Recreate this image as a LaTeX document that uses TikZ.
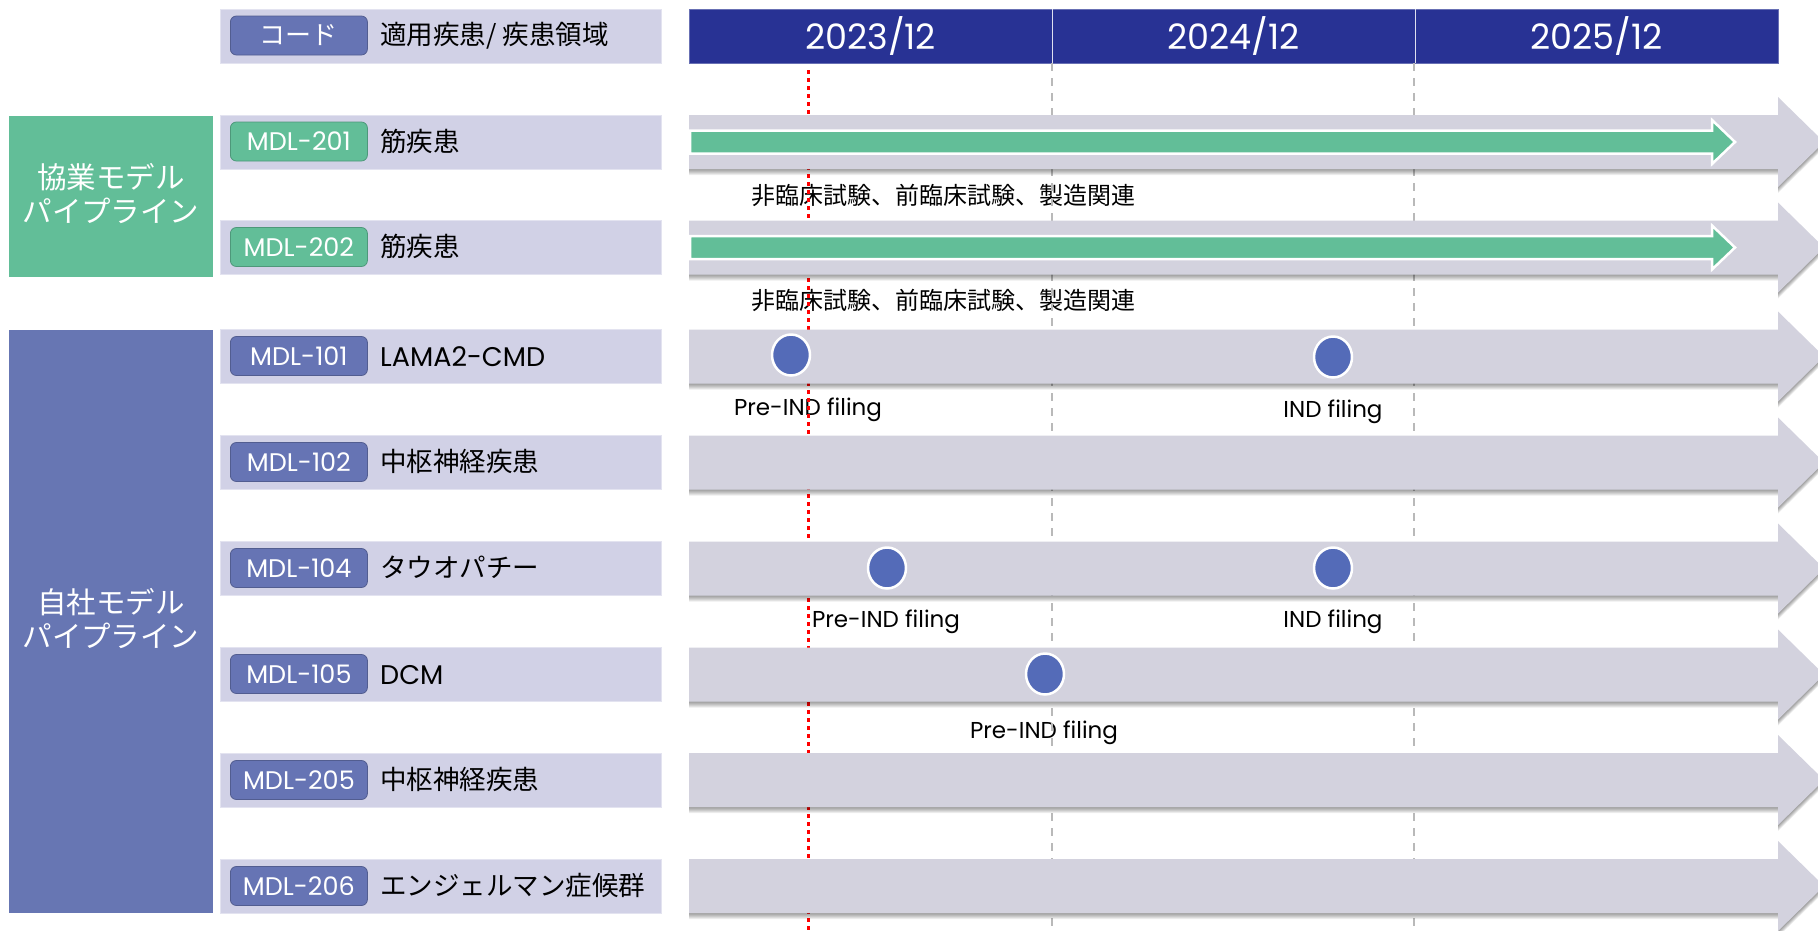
\documentclass[tikz,border=0pt]{standalone}
\usepackage{fontspec}
\setmainfont{Poppins}
\newfontfamily\jp{Noto Sans CJK JP}
\usetikzlibrary{shapes.geometric}
\definecolor{rowbg}{RGB}{209,209,230}
\definecolor{pillblue}{RGB}{102,116,180}
\definecolor{mgreen}{RGB}{98,190,152}
\definecolor{gblue}{RGB}{103,118,179}
\definecolor{navy}{RGB}{40,50,148}
\definecolor{arrowgray}{RGB}{211,210,222}
\definecolor{dotblue}{RGB}{84,107,184}
\begin{document}
\begin{tikzpicture}[x=1pt,y=-1pt,
  rowbox/.style={fill=rowbg, draw=rowbg!60!white, line width=0.8pt, minimum width=441pt, minimum height=54pt, inner sep=0pt, anchor=west},
  pill/.style={rounded corners=6pt, minimum width=137pt, minimum height=39pt, inner sep=0pt, text=white, line width=0.8pt, anchor=west, font=\fontsize{25.5}{25.5}\selectfont},
  bluepill/.style={pill, fill=pillblue, draw=pillblue!80!black},
  greenpill/.style={pill, fill=mgreen, draw=mgreen!80!black},
  distext/.style={anchor=west, inner sep=0pt, font=\jp\fontsize{26.5}{26.5}\selectfont},
  latintext/.style={anchor=west, inner sep=0pt, font=\fontsize{27}{27}\selectfont},
  grp/.style={text=white, align=center, inner sep=0pt, font=\jp\fontsize{29.5}{34}\selectfont},
  yearcell/.style={fill=navy, draw=navy!70!white, minimum width=363pt, minimum height=54pt, inner sep=0pt, anchor=west, text=white, font=\fontsize{35}{35}\selectfont},
  note/.style={inner sep=0pt, font=\jp\fontsize{24}{24}\selectfont},
  lbl/.style={inner sep=0pt, font=\fontsize{23}{23}\selectfont},
  milestone/.style={ellipse, minimum width=38pt, minimum height=41pt, inner sep=0pt, fill=dotblue, draw=white, line width=2.5pt},
  grid/.style={draw=gray!55, line width=1.4pt, dash pattern=on 8pt off 7pt},
  today/.style={draw=red, line width=3pt, dash pattern=on 4pt off 4pt}
]
\useasboundingbox (0,0) rectangle (1818,930);
\fill[white] (0,0) rectangle (1818,930);

% header row
\node[rowbox] (hdr) at (220,36) {};
\node[bluepill, font=\jp\fontsize{26}{26}\selectfont] (hcode) at (230,35.5) {コード};
\node[distext] (htext) at (380,36) {適用疾患/ 疾患領域};

% timeline header
\node[yearcell] (y1) at (689,36) {2023/12};
\node[yearcell] (y2) at (1052,36) {2024/12};
\node[yearcell] (y3) at (1415,36) {2025/12};
\draw[white!85!navy, line width=1.5pt] (y1.north east) -- (y1.south east);
\draw[white!85!navy, line width=1.5pt] (y2.north east) -- (y2.south east);

% milestone labels
\node[note, anchor=west] (n1) at (751,195) {非臨床試験、前臨床試験、製造関連};
\node[note, anchor=west] (n2) at (751,300) {非臨床試験、前臨床試験、製造関連};
\node[lbl] (l1) at (808,410) {Pre-IND filing};
\node[lbl] (l2) at (1333,412) {IND filing};
\node[lbl] (l3) at (886,622) {Pre-IND filing};
\node[lbl] (l4) at (1333,622) {IND filing};
\node[lbl] (l5) at (1044,733) {Pre-IND filing};

% grid lines
\coordinate (g1t) at (1052,63); \coordinate (g1b) at (1052,930);
\coordinate (g2t) at (1414,63); \coordinate (g2b) at (1414,930);
\coordinate (rt) at (808,70); \coordinate (rb) at (808,930);
\draw[grid] (g1t) -- (g1b);
\draw[grid] (g2t) -- (g2b);
\draw[today] (rt) -- (rb);

% gray timeline arrows with soft shadow
\foreach \c in {142,247.5,356.5,462.5,568.5,674.5,780,886}{
  \foreach \s in {1,2,3,4,5,6}{
    \fill[black, opacity=0.07] (689,\c-27+\s) -- (1778,\c-27+\s) -- (1778,\c-45+\s) -- (1824,\c+\s) -- (1778,\c+45+\s) -- (1778,\c+27+\s) -- (689,\c+27+\s) -- cycle;
  }
  \fill[arrowgray] (689,\c-27) -- (1778,\c-27) -- (1778,\c-45) -- (1824,\c) -- (1778,\c+45) -- (1778,\c+27) -- (689,\c+27) -- cycle;
}
% green progress arrows
\foreach \c in {142,247.5}{
  \filldraw[fill=mgreen, draw=white, line width=2.5pt] (690,\c-11.5) -- (1712,\c-11.5) -- (1712,\c-22) -- (1735,\c) -- (1712,\c+22) -- (1712,\c+11.5) -- (690,\c+11.5) -- cycle;
}

% milestones
\node[milestone] (m1) at (791,355) {};
\node[milestone] (m2) at (1333,357) {};
\node[milestone] (m3) at (887,568) {};
\node[milestone] (m4) at (1333,568) {};
\node[milestone] (m5) at (1045,674) {};

% group boxes
\fill[mgreen] (9,116) rectangle (213,277);
\node[grp] (gcollab) at (111,194) {協業モデル\\パイプライン};
\fill[gblue] (9,330) rectangle (213,913);
\node[grp] (gown) at (111,619) {自社モデル\\パイプライン};

% rows
\node[rowbox] (r201) at (220,142) {};
\node[greenpill] (p201) at (230,141.5) {MDL-201};
\node[distext] (d201) at (380,141) {筋疾患};

\node[rowbox] (r202) at (220,247.5) {};
\node[greenpill] (p202) at (230,247) {MDL-202};
\node[distext] (d202) at (380,246.5) {筋疾患};

\node[rowbox] (r101) at (220,356.5) {};
\node[bluepill] (p101) at (230,356) {MDL-101};
\node[latintext] (d101) at (380,357) {LAMA2-CMD};

\node[rowbox] (r102) at (220,462.5) {};
\node[bluepill] (p102) at (230,462) {MDL-102};
\node[distext] (d102) at (380,461.5) {中枢神経疾患};

\node[rowbox] (r104) at (220,568.5) {};
\node[bluepill] (p104) at (230,568) {MDL-104};
\node[distext] (d104) at (380,567.5) {タウオパチー};

\node[rowbox] (r105) at (220,674.5) {};
\node[bluepill] (p105) at (230,674) {MDL-105};
\node[latintext] (d105) at (380,675) {DCM};

\node[rowbox] (r205) at (220,780) {};
\node[bluepill] (p205) at (230,780) {MDL-205};
\node[distext] (d205) at (380,779.5) {中枢神経疾患};

\node[rowbox] (r206) at (220,886) {};
\node[bluepill] (p206) at (230,886) {MDL-206};
\node[distext] (d206) at (380,885.5) {エンジェルマン症候群};
\end{tikzpicture}
\end{document}
